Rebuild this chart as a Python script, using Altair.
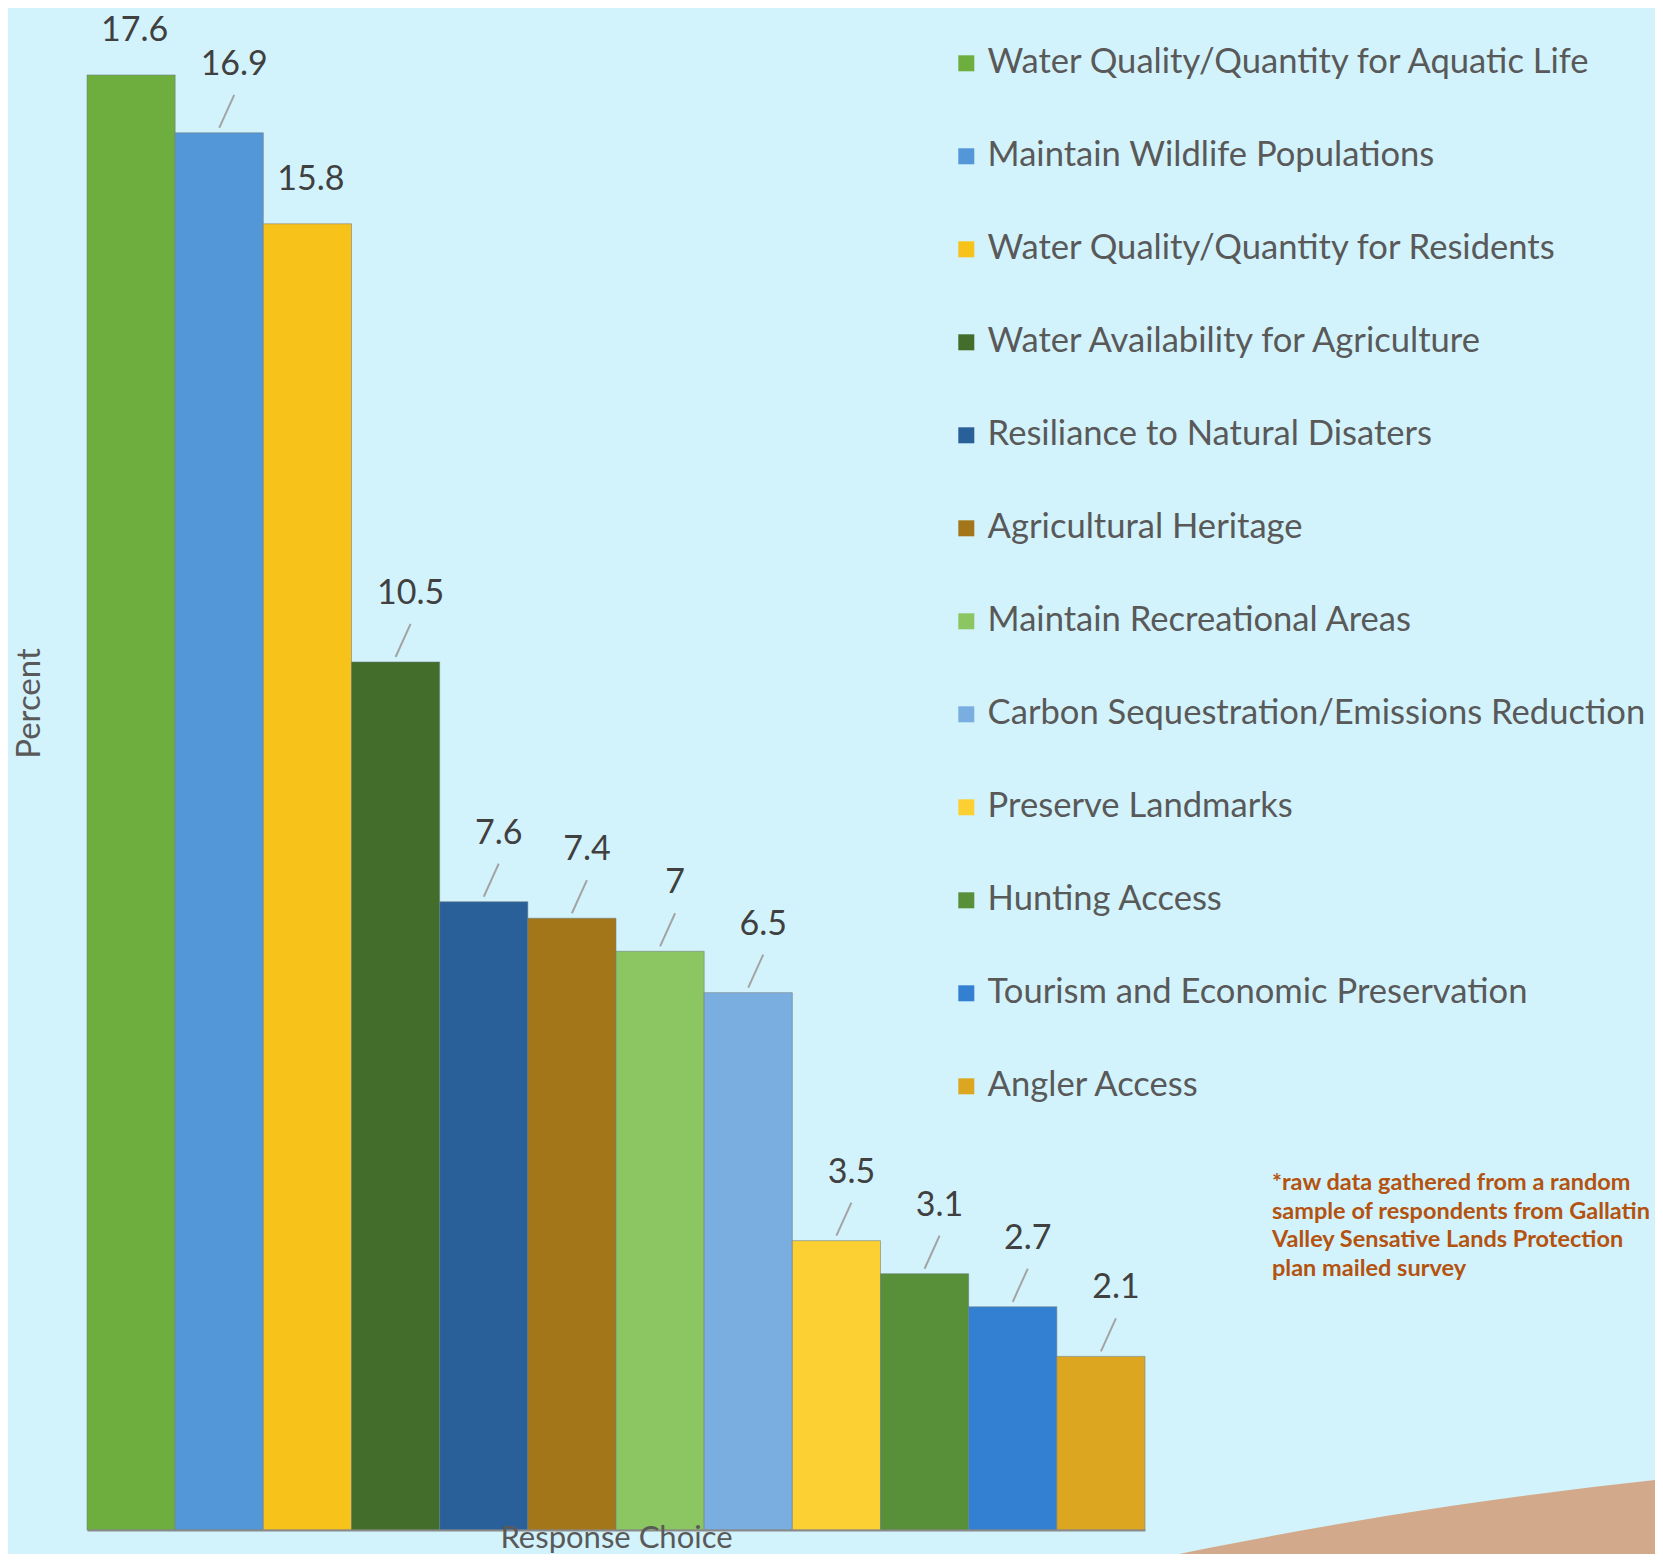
import altair as alt
import pandas as pd

categories = [
    "Water Quality/Quantity for Aquatic Life",
    "Maintain Wildlife Populations",
    "Water Quality/Quantity for Residents",
    "Water Availability for Agriculture",
    "Resiliance to Natural Disaters",
    "Agricultural Heritage",
    "Maintain Recreational Areas",
    "Carbon Sequestration/Emissions Reduction",
    "Preserve Landmarks",
    "Hunting Access",
    "Tourism and Economic Preservation",
    "Angler Access",
]
percent = [17.6, 16.9, 15.8, 10.5, 7.6, 7.4, 7, 6.5, 3.5, 3.1, 2.7, 2.1]
value_labels = ["17.6", "16.9", "15.8", "10.5", "7.6", "7.4", "7", "6.5", "3.5", "3.1", "2.7", "2.1"]
has_leader = [False, True, False, True, True, True, True, True, True, True, True, True]
bar_colors = [
    "#6DAE3F", "#5497D8", "#F7C21A", "#426D2A", "#2A6099", "#A4761A",
    "#8CC662", "#7AAEE0", "#FCD033", "#579038", "#3380D2", "#DDA620",
]
footnote_lines = [
    "*raw data gathered from a random",
    "sample of respondents from Gallatin",
    "Valley Sensative Lands Protection",
    "plan mailed survey",
]
x_title = "Response Choice"
y_title = "Percent"

FONT = "Lato"
TEXT_GREY = "#595959"

df = pd.DataFrame({
    "cat": categories,
    "pct": percent,
    "label": value_labels,
    "leader": has_leader,
    "idx": list(range(len(categories))),
})

xscale = alt.Scale(domain=[-0.5, len(categories) - 0.5], nice=False, zero=False)
yscale = alt.Scale(domain=[0, 18.41], nice=False)

xaxis = alt.Axis(labels=False, ticks=False, grid=False, domain=True,
                 domainColor="#8a8a8a", domainWidth=2, title=x_title,
                 titleY=8, titleBaseline="middle", titleFont=FONT,
                 titleFontSize=31, titleFontWeight="normal", titleColor=TEXT_GREY,
                 zindex=1)
yaxis = alt.Axis(labels=False, ticks=False, grid=False, domain=False,
                 title=y_title, titleX=-58, titleY=695, titleAngle=270,
                 titleAlign="center", titleBaseline="middle", titleFont=FONT,
                 titleFontSize=33, titleFontWeight="normal", titleColor=TEXT_GREY)


def X(field):
    return alt.X(field, type="quantitative", scale=xscale, axis=xaxis, title=x_title)


def Y(field):
    return alt.Y(field, type="quantitative", scale=yscale, axis=yaxis, title=y_title)


base = alt.Chart(df)

bars = base.transform_calculate(
    x0="datum.idx - 0.5", x1="datum.idx + 0.5"
).mark_rect(stroke="#6e7b80", strokeWidth=1, strokeOpacity=0.55).encode(
    x=X("x0"),
    x2="x1:Q",
    y=Y("pct"),
    y2=alt.datum(0),
    color=alt.Color(
        "cat:N",
        scale=alt.Scale(domain=categories, range=bar_colors),
        sort=categories,
        legend=alt.Legend(
            title=None, orient="none", legendX=862, legendY=38,
            direction="vertical", symbolType="square", symbolSize=256,
            symbolStrokeWidth=0, rowPadding=58, labelOffset=4, padding=0,
            labelFont=FONT, labelFontSize=34.6, labelColor=TEXT_GREY,
            labelLimit=800,
        ),
    ),
)

leaders = base.transform_filter("datum.leader").transform_calculate(
    lx0="datum.idx", ly0="datum.pct + 0.06",
    lx1="datum.idx + 0.17", ly1="datum.pct + 0.46",
).mark_rule(color="#a3a3a3", strokeWidth=2).encode(
    x=X("lx0"), x2="lx1:Q", y=Y("ly0"), y2="ly1:Q"
)

labels_leader = base.transform_filter("datum.leader").transform_calculate(
    tx="datum.idx + 0.17", ty="datum.pct + 0.46"
).mark_text(baseline="alphabetic", align="center", dy=-20, font=FONT,
            fontSize=34, color="#404040").encode(
    x=X("tx"), y=Y("ty"), text="label:N"
)

labels_plain = base.transform_filter("!datum.leader").transform_calculate(
    tx="datum.idx + 0.04"
).mark_text(baseline="alphabetic", align="center", dy=-34, font=FONT,
            fontSize=34, color="#404040").encode(
    x=X("tx"), y=Y("pct"), text="label:N"
)

one = alt.Chart(pd.DataFrame({"a": [0]}))

hill = one.mark_arc(color="#D3A98B", outerRadius=5000, innerRadius=0,
                    theta=0, theta2=6.2832).encode(
    x=alt.value(2097), y=alt.value(6444)
)

footnote = one.mark_text(
    text=footnote_lines, align="left", baseline="alphabetic", font=FONT,
    fontSize=23.5, fontWeight="bold", color="#B4520F", lineHeight=28.6,
).encode(x=alt.value(1185), y=alt.value(1182))

chart = alt.layer(hill, bars, leaders, labels_leader, labels_plain, footnote).properties(
    width=1058, height=1522,
    padding={"left": 79, "top": 0, "right": 510, "bottom": 24},
    autosize=alt.AutoSizeParams(type="none"),
    background="#D3F3FC",
).configure_view(stroke=None)

chart.save("out.html", embed_options={"renderer": "svg", "actions": False})
